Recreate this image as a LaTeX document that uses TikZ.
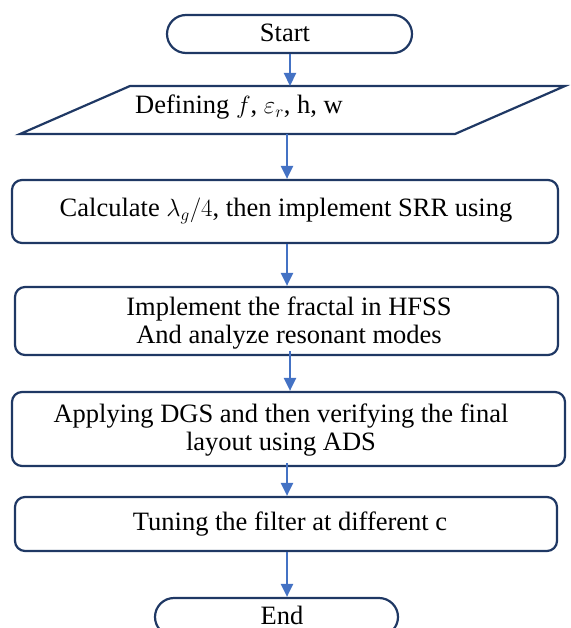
\documentclass[tikz,border=0pt]{standalone}
\usepackage{fontspec}
\setmainfont{Liberation Serif}
\usetikzlibrary{arrows.meta}
\definecolor{navy}{HTML}{1F3864}
\definecolor{arrblue}{HTML}{4472C4}
\begin{document}
\begin{tikzpicture}[x=1pt,y=-1pt,
  outline/.style={draw=navy,line width=2.2pt},
  procbox/.style={outline,rounded corners=10pt,fill=white,inner sep=0pt},
  term/.style={outline,rounded corners=19pt,minimum height=38pt,inner sep=0pt},
  arr/.style={draw=arrblue,line width=2.2pt,-{Triangle[length=13pt,width=12pt]}},
  txt/.style={inner sep=0pt,align=center,font=\fontsize{26.5}{28.5}\selectfont}]
\useasboundingbox (0,0) rectangle (570,628);
\clip (0,0) rectangle (570,628);
% start
\node[term,minimum width=245pt] (start) at (289.5,34) {};
\node[txt] (starttxt) at (285,33) {Start};
% parallelogram
\draw[outline] (130,86) -- (565,86) -- (455,134) -- (20,134) -- cycle;
\coordinate (paratop) at (290,86);
\coordinate (parabot) at (287,134);
\node[txt] (para) at (239,107) {Defining $f$, $\varepsilon_r$, h, w};
% boxes
\node[procbox,minimum width=546pt,minimum height=63pt] (b1) at (285,211.5) {};
\node[txt] (t1) at (286,211) {Calculate $\lambda_g/4$, then implement SRR using};
\node[procbox,minimum width=543pt,minimum height=68pt] (b2) at (286.5,321) {};
\node[txt] (t2) at (289,323) {Implement the fractal in HFSS\\And analyze resonant modes};
\node[procbox,minimum width=553pt,minimum height=74pt] (b3) at (288.5,429) {};
\node[txt] (t3) at (281,430) {Applying DGS and then verifying the final\\layout using ADS};
\node[procbox,minimum width=542pt,minimum height=54pt] (b4) at (286,524) {};
\node[txt] (t4) at (290,524) {Tuning the filter at different c};
% end
\node[term,minimum width=243pt] (end) at (276.5,617) {};
\node[txt] (endtxt) at (282,615) {End};
% arrows
\coordinate (x1) at (287,0);
\coordinate (x2) at (290,0);
\draw[arr] (start.south -| paratop) -- (paratop);
\draw[arr] (parabot) -- (parabot |- b1.north);
\draw[arr] (b1.south -| x1) -- (b2.north -| x1);
\draw[arr] ([yshift=5pt]b2.south -| x2) -- (b3.north -| x2);
\draw[arr] ([yshift=4pt]b3.south -| x1) -- (b4.north -| x1);
\draw[arr] (b4.south -| x1) -- (end.north -| x1);
\end{tikzpicture}
\end{document}
